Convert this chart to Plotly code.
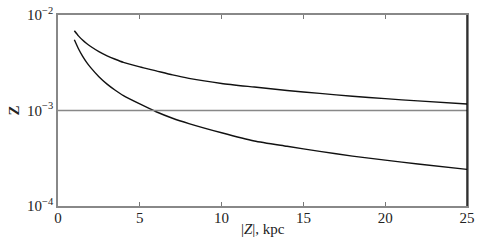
import plotly.graph_objects as go

z_kpc = [1, 1.25, 1.5, 1.75, 2, 2.5, 3, 3.5, 4, 5, 6, 7, 8, 10, 12, 14, 16, 18, 20, 22, 25]
upper_Z = [6.84e-3, 6.05e-3, 5.47e-3, 5.03e-3, 4.68e-3, 4.14e-3, 3.74e-3, 3.44e-3,
           3.19e-3, 2.86e-3, 2.6e-3, 2.36e-3, 2.17e-3, 1.92e-3, 1.76e-3, 1.62e-3,
           1.51e-3, 1.41e-3, 1.33e-3, 1.26e-3, 1.17e-3]
lower_Z = [5.5e-3, 4.43e-3, 3.71e-3, 3.19e-3, 2.81e-3, 2.26e-3, 1.89e-3, 1.63e-3,
           1.43e-3, 1.17e-3, 9.7e-4, 8.3e-4, 7.3e-4, 5.85e-4, 4.8e-4, 4.22e-4,
           3.73e-4, 3.33e-4, 3.02e-4, 2.75e-4, 2.42e-4]
ref_level = 1e-3
x_ticks = [0, 5, 10, 15, 20, 25]
y_ticks = [1e-4, 1e-3, 1e-2]
y_ticklabels = ["10<sup>\u22124</sup>", "10<sup>\u22123</sup>", "10<sup>\u22122</sup>"]

font = dict(family="'Liberation Serif', 'Times New Roman', serif", size=15, color="#222")

fig = go.Figure()
for ys in (upper_Z, lower_Z):
    fig.add_trace(go.Scatter(x=z_kpc, y=ys, mode="lines",
                             line=dict(color="#111", width=1.4, shape="spline", smoothing=0.6),
                             showlegend=False, hoverinfo="skip"))
fig.add_hline(y=ref_level, line=dict(color="#888", width=1.5))
fig.add_shape(type="line", xref="paper", yref="paper", x0=1, x1=1, y0=0, y1=1,
              line=dict(color="#000", width=1.3))

fig.add_annotation(text="|<i>Z</i>|, kpc", xref="paper", yref="paper", x=0.5, y=0,
                   xanchor="center", yanchor="top", yshift=-13, showarrow=False, font=font)
fig.add_annotation(text="<b>Z</b>", xref="paper", yref="paper", x=0, y=0.5,
                   xanchor="center", yanchor="middle", xshift=-45, textangle=-90,
                   showarrow=False, font=font)

fig.update_layout(
    width=480, height=246,
    margin=dict(l=58, r=13, t=15, b=40, autoexpand=False),
    paper_bgcolor="white", plot_bgcolor="white",
    font=font,
    xaxis=dict(range=[0, 25], tickvals=x_ticks, ticks="inside", ticklen=4,
               tickcolor="#777", showline=True, linecolor="#888", linewidth=1.5,
               mirror="allticks", showgrid=False, zeroline=False, automargin=False,
               ticklabelstandoff=-3, tickfont=font),
    yaxis=dict(type="log", range=[-4, -2], tickvals=y_ticks, ticktext=y_ticklabels,
               ticks="inside", ticklen=4, tickcolor="#333", showline=True,
               linecolor="#888", linewidth=1.5, mirror="allticks", showgrid=False,
               zeroline=False, automargin=False, tickfont=font),
)

# remove the browser's default 8px body margin so the figure sits at the page origin
fig.write_html("out.html", config={"displayModeBar": False},
               post_script="document.body.style.margin='0';")
